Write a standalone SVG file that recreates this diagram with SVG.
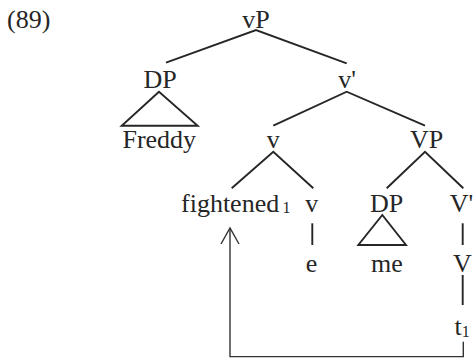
<svg xmlns="http://www.w3.org/2000/svg" width="474" height="358" viewBox="0 0 474 358">
<style>
text{font-family:"Liberation Serif","Times New Roman",serif;font-size:26px;fill:#262626;text-anchor:middle}
.sub{font-size:16px}
.st{text-anchor:start}
.e{stroke:#262626;stroke-width:1.9;fill:none;stroke-linecap:butt}
.mv{stroke:#333;stroke-width:1.4;fill:none}
</style>
<rect width="474" height="358" fill="#fff"/>
<text class="st" x="7" y="28.3">(89)</text>
<g id="n-vP"><text x="256" y="28.3">vP</text></g>
<g id="n-DP1"><text x="160" y="88.3">DP</text></g>
<g id="n-Freddy"><polygon class="e" points="159,91.7 121.7,125.7 197.7,125.7"/><text x="159.3" y="148.3">Freddy</text></g>
<g id="n-vbar"><text x="347" y="88.3">v'</text></g>
<g id="n-v1"><text x="273.3" y="148.3">v</text></g>
<g id="n-VP"><text x="426.5" y="148.3">VP</text></g>
<g id="n-fightened"><text class="st" x="181" y="211.7">fightened<tspan class="sub" x="282.5" dy="1.5">1</tspan></text></g>
<g id="n-v2"><text x="311.8" y="211.7">v</text></g>
<g id="n-DP2"><text x="386.7" y="211.7">DP</text></g>
<g id="n-Vbar"><text class="st" x="449.8" y="211.7">V'</text></g>
<g id="n-e"><text x="311.5" y="271.7">e</text></g>
<g id="n-me"><polygon class="e" points="382.3,215 358.3,245 406,245"/><text x="387" y="271.7">me</text></g>
<g id="n-V"><text x="462.5" y="271.7">V</text></g>
<g id="n-t"><text class="st" x="454.5" y="335">t<tspan class="sub" dy="1.5">1</tspan></text></g>
<g id="connectors">
<path class="e" d="M166,62.7 L256,30 L346.7,63.3"/>
<path class="e" d="M273.3,125.7 L346.7,91.7 L425,125.7"/>
<path class="e" d="M231.7,188.3 L273.3,151.7 L313.3,188.3"/>
<path class="e" d="M386.7,188.3 L425,151.7 L463.3,188.3"/>
<line class="e" x1="312.3" y1="223.3" x2="312.3" y2="245"/>
<line class="e" x1="462.7" y1="223.3" x2="462.7" y2="245"/>
<line class="e" x1="462.7" y1="275" x2="462.7" y2="305"/>
<path class="mv" d="M463.3,341.7 L463.3,356.6 L230,356.6 L230,228.5"/>
<path class="mv" d="M221,244 L230,228 L239,244"/>
</g>
</svg>
